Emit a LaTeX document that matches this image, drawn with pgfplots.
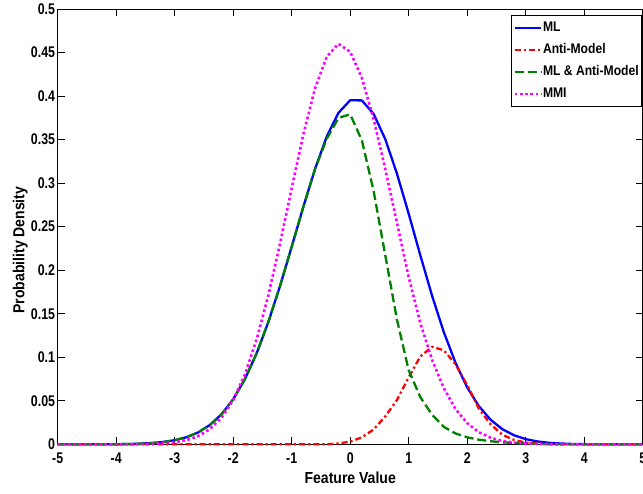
\documentclass[border=0pt]{standalone}
\usepackage{fontspec}
\setmainfont{Liberation Sans}
\newfontfamily\tickfont{Liberation Sans Bold}[FakeStretch=0.80]
\newfontfamily\labfont{Liberation Sans Bold}[FakeStretch=0.88]
\newfontfamily\legfont{Liberation Sans Bold}[FakeStretch=0.87]
\usepackage{pgfplots}
\pgfplotsset{compat=1.18}
\usepackage{pgfplotstable}
\definecolor{mlblue}{RGB}{0,0,255}
\definecolor{antired}{RGB}{255,0,0}
\definecolor{bothgreen}{RGB}{0,128,0}
\definecolor{mmimag}{RGB}{255,0,255}

\pgfplotstableread{
x ml anti both mmi
-5.0 0 0 0 0
-4.8 0 0 0 0
-4.6 0 0 0 0
-4.4 0 0 0 0
-4.2 0 0 0 0
-4.0 0.0001 0 0.0001 0
-3.8 0.0003 0 0.0003 0
-3.6 0.0007 0 0.0007 0
-3.4 0.0014 0 0.0014 0.0005
-3.2 0.0026 0 0.0026 0.0011
-3.0 0.0047 0 0.0047 0.0023
-2.8 0.0081 0 0.0081 0.0048
-2.6 0.0136 0 0.0136 0.0093
-2.4 0.0221 0 0.0221 0.0173
-2.2 0.0344 0 0.0344 0.0305
-2.0 0.0517 0 0.0517 0.0508
-1.8 0.0748 0 0.0748 0.0803
-1.6 0.1044 0 0.1044 0.1203
-1.4 0.1403 0 0.1403 0.1709
-1.2 0.1817 0 0.1817 0.2303
-1.0 0.2269 0 0.2269 0.2941
-0.8 0.2730 0 0.2730 0.3562
-0.6 0.3165 0 0.3165 0.4090
-0.4 0.3537 0 0.3510 0.4454
-0.2 0.3808 0.001 0.3750 0.4599
0.0 0.3952 0.003 0.3790 0.4509
0.2 0.3950 0.008 0.3490 0.4208
0.4 0.3795 0.017 0.2910 0.3737
0.6 0.3504 0.032 0.2170 0.3160
0.8 0.3107 0.051 0.1430 0.2543
1.0 0.2648 0.077 0.0850 0.1920
1.2 0.2168 0.101 0.0540 0.1390
1.4 0.1705 0.112 0.0340 0.0970
1.6 0.1289 0.108 0.0200 0.0645
1.8 0.0936 0.092 0.0125 0.0405
2.0 0.0653 0.068 0.0080 0.0243
2.2 0.0438 0.041 0.0053 0.0139
2.4 0.0282 0.023 0.0035 0.0076
2.6 0.0174 0.011 0.0023 0.0039
2.8 0.0104 0.005 0.0015 0.0019
3.0 0.0059 0.002 0.0009 0.0009
3.2 0.0033 0.001 0.0005 0.0004
3.4 0.0017 0 0.0003 0.0001
3.6 0.0009 0 0.0001 0
3.8 0.0004 0 0 0
4.0 0.0002 0 0 0
4.2 0 0 0 0
4.4 0 0 0 0
4.6 0 0 0 0
4.8 0 0 0 0
5.0 0 0 0 0
}\datatable

\begin{document}
\begin{tikzpicture}
\useasboundingbox (-57.7bp,-49.7bp) rectangle (585.3bp,444.3bp);
\begin{axis}[
  at={(0,0)}, anchor=south west,
  scale only axis, width=585bp, height=435.3bp,
  xmin=-5, xmax=5, ymin=0, ymax=0.5,
  xtick={-5,-4,-3,-2,-1,0,1,2,3,4,5},
  xticklabels={-5,-4,-3,-2,-1,0,1,2,3,4,5},
  ytick={0,0.05,0.1,0.15,0.2,0.25,0.3,0.35,0.4,0.45,0.5},
  yticklabels={0,0.05,0.1,0.15,0.2,0.25,0.3,0.35,0.4,0.45,0.5},
  tick align=inside, major tick length=7bp,
  axis line style={line width=0.8bp},
  tick style={line width=0.8bp, black},
  every tick label/.append style={font=\tickfont\fontsize{15.5}{18}\selectfont},
  xticklabel style={anchor=north, inner sep=0bp, yshift=-8.5bp},
  yticklabel style={anchor=east, inner sep=0bp, xshift=-2.5bp},
  xlabel={Feature Value}, ylabel={Probability Density},
  label style={font=\labfont\fontsize{16}{18}\selectfont},
  xlabel style={at={(axis description cs:0.5,0)}, anchor=base, yshift=-39.2bp},
  ylabel style={at={(axis description cs:0,0.446)}, anchor=base, yshift=33.2bp},
  clip=false,
  legend cell align=left,
  legend image code/.code={\draw[#1] (0bp,0bp) -- (26.5bp,0bp);},
  legend style={at={(0.999,0.986)}, anchor=north east, draw=black, line width=0.8bp,
    fill=white, inner xsep=2.5bp, inner ysep=1.5bp, row sep=0bp,
    font=\legfont\fontsize{14}{16}\selectfont,
    nodes={inner xsep=0.5bp, inner ysep=4.75bp, text height=10bp, text depth=2.5bp}},
]
\addplot[mlblue, line width=2.3bp, line join=round] table[x=x, y=ml] {\datatable};
\addlegendentry{ML}
\addplot[antired, line width=2.3bp, line join=round, dash pattern=on 6bp off 3bp on 2.2bp off 3bp] table[x=x, y=anti] {\datatable};
\addlegendentry{Anti-Model}
\addplot[bothgreen, line width=2.3bp, line join=round, dash pattern=on 9bp off 4bp] table[x=x, y=both] {\datatable};
\addlegendentry{ML \& Anti-Model}
\addplot[mmimag, line width=2.6bp, line join=round, dash pattern=on 2.6bp off 2.6bp] table[x=x, y=mmi] {\datatable};
\addlegendentry{MMI}
\end{axis}
\end{tikzpicture}
\end{document}
